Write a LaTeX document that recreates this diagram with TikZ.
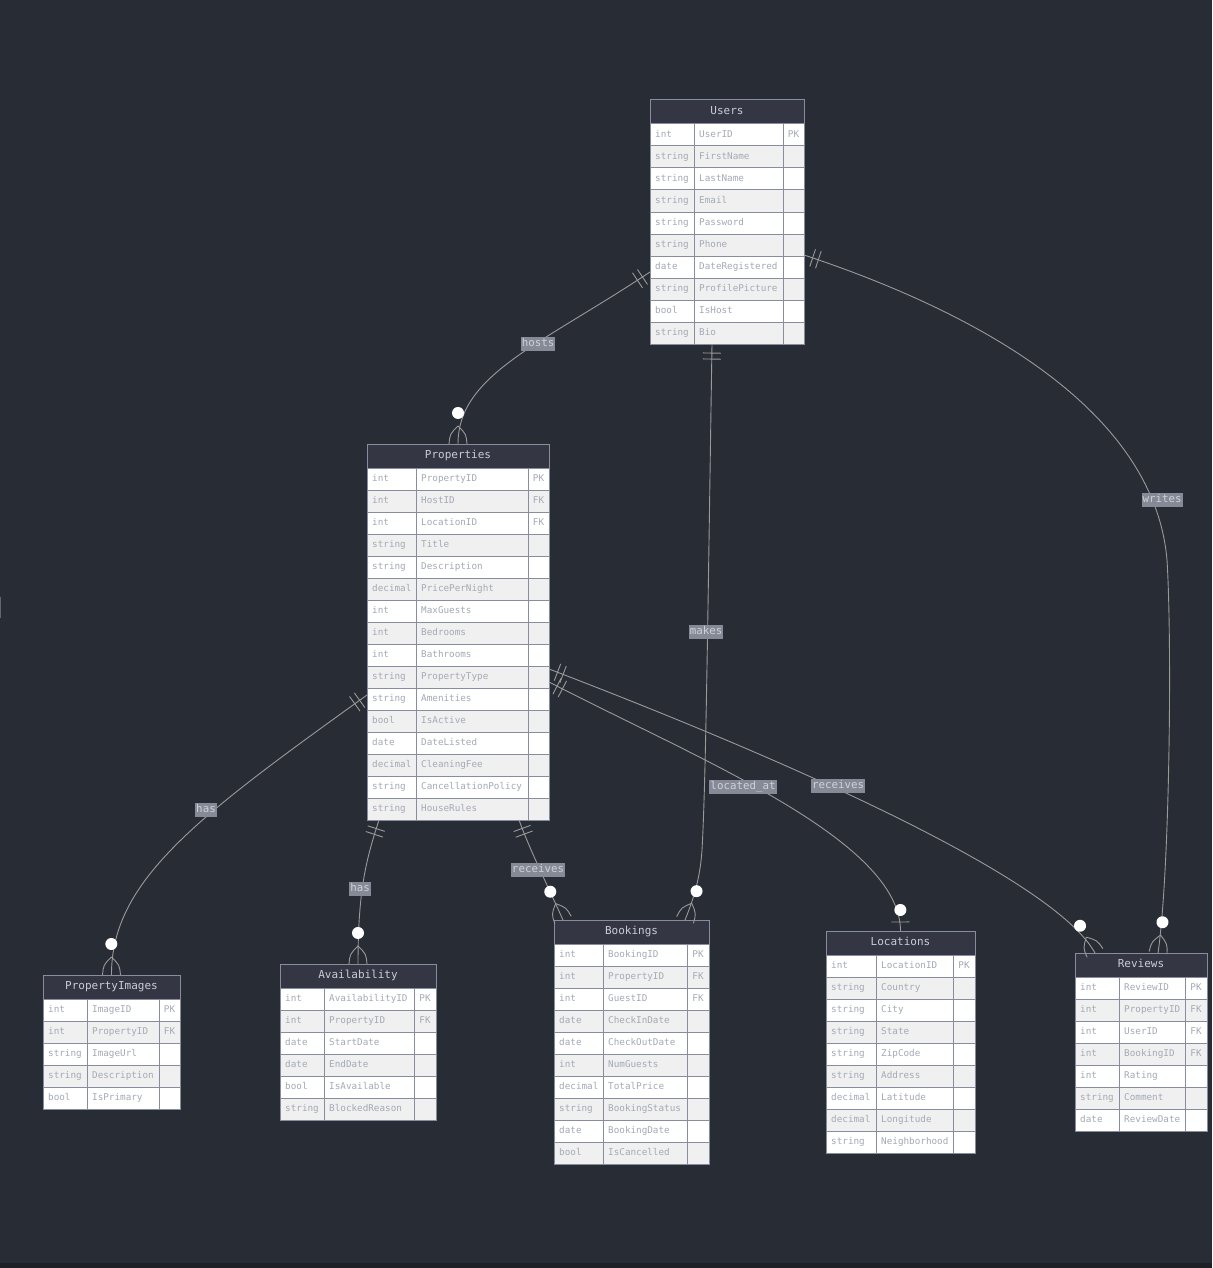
\documentclass[tikz,border=0pt]{standalone}
\usepackage{fontspec}
\setmonofont{DejaVu Sans Mono}
\usetikzlibrary{calc,fit,decorations.markings}

\definecolor{canvas}{HTML}{282C34}
\definecolor{canvasedge}{HTML}{1E2026}
\definecolor{headfill}{HTML}{343743}
\definecolor{gridline}{HTML}{878C9E}
\definecolor{headink}{HTML}{C8CDD8}
\definecolor{cellink}{HTML}{A4A9B6}
\definecolor{rowalt}{HTML}{F0F0F0}
\definecolor{relink}{HTML}{9A9A9A}
\definecolor{tagfill}{HTML}{868A96}
\definecolor{tagink}{HTML}{CDD1D9}

% one entity table: name, left, divider 1, divider 2, right, top, row count, title, fields
\newcommand\erentity[9]{%
  \fill[headfill] (#2,#6) rectangle (#5,#6+24);
  \node[headtext] (#1-title) at ({(#2+#5)/2},#6+12) {#8};
  \foreach [count=\i] \ty/\nm/\ky in {#9} {
    \pgfmathsetmacro\ya{#6+24+22*(\i-1)}
    \pgfmathsetmacro\yb{\ya+22}
    \ifodd\i\def\rowcol{white}\else\def\rowcol{rowalt}\fi
    \draw[cell, fill=\rowcol] (#2,\ya) rectangle (#3,\yb);
    \draw[cell, fill=\rowcol] (#3,\ya) rectangle (#4,\yb);
    \draw[cell, fill=\rowcol] (#4,\ya) rectangle (#5,\yb);
    \node[celltext] (#1-t\i) at (#2+5,\ya+11) {\ty};
    \node[celltext] (#1-n\i) at (#3+5,\ya+11) {\nm};
    \node[keytext] (#1-k\i) at ({(#4+#5)/2},\ya+11) {\ky};
  }
  \node[tablebox, fit={(#2,#6) (#5,#6+24+22*#7)}] (#1) {};
}

\begin{document}
\begin{tikzpicture}[
  x=1pt, y=-1pt,
  cell/.style={draw=gridline, line width=1pt},
  celltext/.style={anchor=west, inner sep=0pt, text height=7pt, text depth=2pt,
    text=cellink, font=\ttfamily\fontsize{9.3}{11}\selectfont},
  keytext/.style={celltext, anchor=center},
  headtext/.style={inner sep=0pt, text height=8pt, text depth=2.5pt, text=headink,
    font=\ttfamily\fontsize{11}{13}\selectfont},
  tablebox/.style={draw=gridline, line width=1pt, inner sep=0pt, outer sep=0pt},
  rel/.style={draw=relink, line width=0.9pt},
  onestart/.style={postaction={decorate, decoration={markings,
      mark=at position 0.0001 with {\draw[relink, line width=0.9pt] (9,-9) -- (9,9) (15,-9) -- (15,9);}}}},
  zeromanyend/.style={postaction={decorate, decoration={markings,
      mark=at position 0.9999 with {
        \draw[relink, line width=0.9pt] (-18,0) .. controls (-10,8) .. (0,9)
                                        (-18,0) .. controls (-10,-8) .. (0,-9);
        \fill[white] (-31,0) circle[radius=6pt];}}}},
  zerooneend/.style={postaction={decorate, decoration={markings,
      mark=at position 0.9999 with {
        \draw[relink, line width=0.9pt] (-9,-9) -- (-9,9);
        \fill[white] (-21,0) circle[radius=6pt];}}}},
  rlabel/.style={fill=tagfill, text=tagink, inner xsep=1pt, inner ysep=1.5pt,
    text height=8pt, text depth=2.5pt, font=\ttfamily\fontsize{10.8}{12}\selectfont},
]
\useasboundingbox (0,0) rectangle (1212,1268);
\fill[canvas] (0,0) rectangle (1212,1268);
\fill[canvasedge] (0,1263) rectangle (1212,1268);
\draw[gridline!60!canvas, line width=1pt] (0.5,597) -- (0.5,618);

% entities
\erentity{users}{650}{694}{783}{804}{100}{10}{Users}{
  int/UserID/PK, string/FirstName/{}, string/LastName/{}, string/Email/{},
  string/Password/{}, string/Phone/{}, date/DateRegistered/{},
  string/ProfilePicture/{}, bool/IsHost/{}, string/Bio/{}}

\erentity{properties}{367}{416}{528}{549}{444}{16}{Properties}{
  int/PropertyID/PK, int/HostID/FK, int/LocationID/FK, string/Title/{},
  string/Description/{}, decimal/PricePerNight/{}, int/MaxGuests/{},
  int/Bedrooms/{}, int/Bathrooms/{}, string/PropertyType/{},
  string/Amenities/{}, bool/IsActive/{}, date/DateListed/{},
  decimal/CleaningFee/{}, string/CancellationPolicy/{}, string/HouseRules/{}}

\erentity{images}{43}{87}{159}{180}{975}{5}{PropertyImages}{
  int/ImageID/PK, int/PropertyID/FK, string/ImageUrl/{},
  string/Description/{}, bool/IsPrimary/{}}

\erentity{avail}{280}{324}{414}{436}{964}{6}{Availability}{
  int/AvailabilityID/PK, int/PropertyID/FK, date/StartDate/{},
  date/EndDate/{}, bool/IsAvailable/{}, string/BlockedReason/{}}

\erentity{bookings}{554}{603}{687}{709}{920}{10}{Bookings}{
  int/BookingID/PK, int/PropertyID/FK, int/GuestID/FK, date/CheckInDate/{},
  date/CheckOutDate/{}, int/NumGuests/{}, decimal/TotalPrice/{},
  string/BookingStatus/{}, date/BookingDate/{}, bool/IsCancelled/{}}

\erentity{locations}{826}{876}{953}{975}{931}{9}{Locations}{
  int/LocationID/PK, string/Country/{}, string/City/{}, string/State/{},
  string/ZipCode/{}, string/Address/{}, decimal/Latitude/{},
  decimal/Longitude/{}, string/Neighborhood/{}}

\erentity{reviews}{1075}{1119}{1185}{1207}{953}{7}{Reviews}{
  int/ReviewID/PK, int/PropertyID/FK, int/UserID/FK, int/BookingID/FK,
  int/Rating/{}, string/Comment/{}, date/ReviewDate/{}}

% relationships
\draw[rel, onestart, zeromanyend] ($(users.north west)+(0,172)$)
  .. controls (540,345) and (458,375) .. (properties.north);
\draw[rel, onestart, zeromanyend] ($(users.south west)+(62,0)$)
  .. controls (708,600) and (706,780) .. (702,850)
  .. controls (700,880) and (693,900) .. ($(bookings.north west)+(131,0)$);
\draw[rel, onestart, zeromanyend] ($(users.north east)+(0,155)$)
  .. controls (1000,320) and (1155,420) .. (1167,560)
  .. controls (1172,640) and (1170,870) .. ($(reviews.north west)+(83,0)$);
\draw[rel, onestart, zeromanyend] ($(properties.north west)+(0,251)$)
  .. controls (200,815) and (111,880) .. (images.north);
\draw[rel, onestart, zeromanyend] ($(properties.south west)+(12,0)$)
  .. controls (366,860) and (358,890) .. (avail.north);
\draw[rel, onestart, zeromanyend] ($(properties.south west)+(152,0)$)
  .. controls (530,850) and (545,880) .. ($(bookings.north west)+(9,0)$);
\draw[rel, onestart, zerooneend] ($(properties.north east)+(0,238)$)
  .. controls (700,760) and (900,840) .. (locations.north);
\draw[rel, onestart, zeromanyend] ($(properties.north east)+(0,225)$)
  .. controls (800,765) and (1055,880) .. ($(reviews.north west)+(20,0)$);

% relationship names
\node[rlabel] (tag-hosts) at (538,344) {hosts};
\node[rlabel] (tag-makes) at (706,632) {makes};
\node[rlabel] (tag-writes) at (1162,500) {writes};
\node[rlabel] (tag-has-images) at (206,810) {has};
\node[rlabel] (tag-has-avail) at (360,889) {has};
\node[rlabel] (tag-receives-bookings) at (538,870) {receives};
\node[rlabel] (tag-located) at (743,787) {located\_at};
\node[rlabel] (tag-receives-reviews) at (838,786) {receives};
\end{tikzpicture}
\end{document}
